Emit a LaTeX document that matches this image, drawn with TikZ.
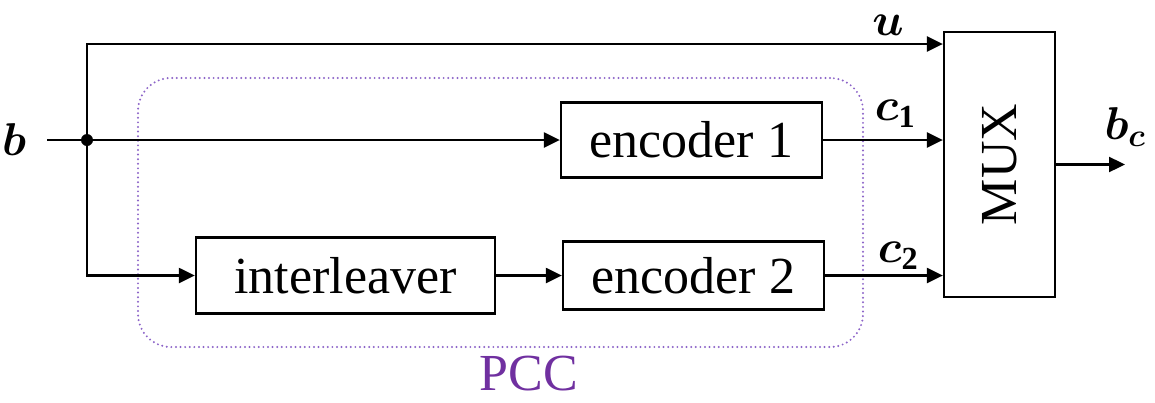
\RequirePackage{fix-cm}
\documentclass[tikz,border=0pt]{standalone}
\usepackage{fontspec}
\setmainfont{Liberation Serif}
\usepackage{amsmath,bm}
\usetikzlibrary{arrows.meta}
\definecolor{pcctext}{RGB}{112,48,160}
\definecolor{pccline}{RGB}{140,100,200}
\begin{document}
\begin{tikzpicture}[x=1pt,y=-1pt,
  blk/.style={draw, line width=2.3pt, inner sep=0pt, font=\fontsize{52}{60}\selectfont},
  conn/.style={line width=2.3pt, -{Triangle[length=16pt,width=15pt]}},
  lbl/.style={inner sep=0pt, font=\fontsize{46}{20}\selectfont},
  pccbox/.style={draw=pccline, line width=2.2pt, dash pattern=on 0pt off 4.6pt, line cap=round, rounded corners=33pt, inner sep=0pt}]
\useasboundingbox (0,0) rectangle (1155,402);
% blocks
\node[blk, minimum width=261pt, minimum height=75pt] (enc1) at (691.5,140) {encoder 1};
\node[blk, minimum width=299pt, minimum height=76pt] (intl) at (345.5,275.5) {interleaver};
\node[blk, minimum width=261pt, minimum height=68pt] (enc2) at (693.5,275.5) {encoder 2};
\node[blk, minimum width=111pt, minimum height=265pt] (mux) at (999.5,164.5) {};
\node[font=\fontsize{52}{60}\selectfont, rotate=90, inner sep=0pt] (muxt) at (mux.center) {MUX};
% PCC box
\node[pccbox, minimum width=725pt, minimum height=269pt] (pcc) at (500.5,212.5) {};
\node[font=\fontsize{52}{60}\selectfont, text=pcctext, inner sep=0pt] (pccl) at (529,374) {PCC};
% coordinates
\coordinate (bin) at (47,140);
\coordinate (j) at (87,140);
\coordinate (jt) at (87,44);
\coordinate (bout) at (1125,164.5);
% connectors
\draw[line width=2.3pt] (bin) -- (j);
\draw[conn] (j) -- (enc1.west);
\draw[conn] (j) -- (jt) -- (jt -| mux.west);
\draw[conn] (j) |- (intl.west);
\draw[conn] (intl.east) -- (enc2.west);
\draw[conn] (enc1.east) -- (enc1.east -| mux.west);
\draw[conn] (enc2.east) -- (enc2.east -| mux.west);
\draw[conn] (mux.east) -- (bout);
\fill (j) circle (6pt);
% labels
\node[lbl] (lb) at (14,140) {$\bm{b}$};
\node[lbl] (lu) at (888,25) {$\bm{u}$};
\node[lbl] (lc1) at (895,114) {$\bm{c}_{\mathbf{1}}$};
\node[lbl] (lc2) at (898,256) {$\bm{c}_{\mathbf{2}}$};
\node[lbl] (lbc) at (1125,127) {$\bm{b}_{\bm{c}}$};
\end{tikzpicture}
\end{document}
